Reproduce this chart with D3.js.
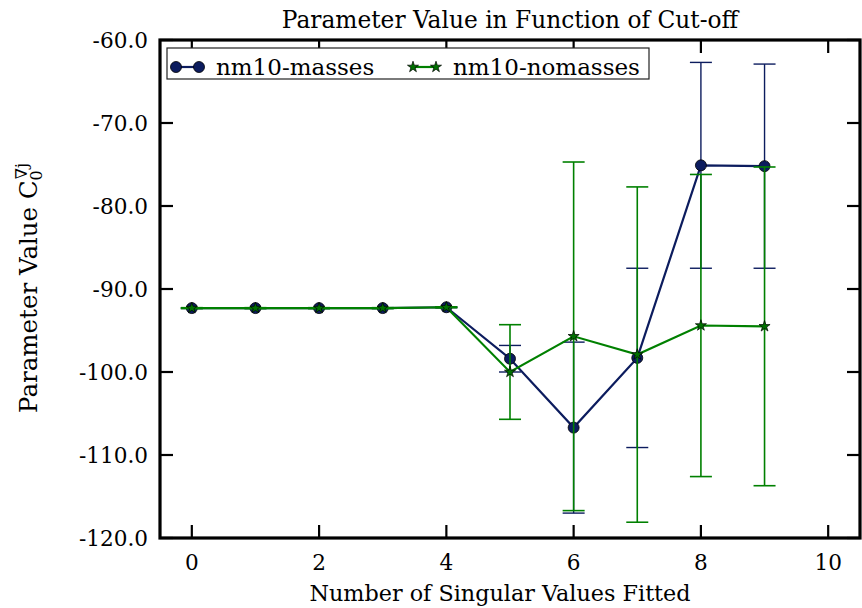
<!DOCTYPE html>
<html lang="en">
<head>
<meta charset="utf-8">
<script src="https://d3js.org/d3.v7.min.js"></script>
<style>
  body { margin: 0; background: #fff; }
  text { font-family: "DejaVu Serif", serif; fill: #000; }
</style>
</head>
<body>
<script>
// data
var cutoffs = [0, 1, 2, 3, 4, 5, 6, 7, 8, 9];
var massesVal = [-92.3, -92.3, -92.3, -92.3, -92.2, -98.4, -106.7, -98.3, -75.1, -75.2];
var massesErr = [0.05, 0.05, 0.05, 0.05, 0.05, 1.6, 10.3, 10.8, 12.4, 12.3];
var nomassesVal = [-92.3, -92.3, -92.3, -92.3, -92.2, -100.0, -95.7, -97.9, -94.4, -94.5];
var nomassesErr = [0.05, 0.05, 0.05, 0.05, 0.05, 5.7, 21.0, 20.2, 18.2, 19.2];
var xTicks = [0, 2, 4, 6, 8, 10];
var yTicks = [-60, -70, -80, -90, -100, -110, -120];

var width = 862, height = 608;
var margin = {left: 160, right: 2, top: 40, bottom: 70};

var svg = d3.select('body').append('svg').attr('width', width).attr('height', height);

var x = d3.scaleLinear().domain([-0.5, 10.5]).range([margin.left, width - margin.right]);
var y = d3.scaleLinear().domain([-120, -60]).range([height - margin.bottom, margin.top]);

var navy = '#0c1c5e', green = '#008000';

// error bars + lines + markers, masses first then nomasses on top
function series(vals, errs, color, lw, ew, kind) {
  var g = svg.append('g');
  var pts = cutoffs.map(function(c, i) { return {x: c, y: vals[i], e: errs[i]}; });
  g.append('path')
    .datum(pts)
    .attr('fill', 'none').attr('stroke', color).attr('stroke-width', lw)
    .attr('d', d3.line().x(function(d) { return x(d.x); }).y(function(d) { return y(d.y); }));
  var eb = g.selectAll('.eb').data(pts).join('g');
  eb.append('line')
    .attr('x1', function(d) { return x(d.x); }).attr('x2', function(d) { return x(d.x); })
    .attr('y1', function(d) { return y(d.y - d.e); }).attr('y2', function(d) { return y(d.y + d.e); })
    .attr('stroke', color).attr('stroke-width', ew);
  [-1, 1].forEach(function(s) {
    eb.append('line')
      .attr('x1', function(d) { return x(d.x) - 11; }).attr('x2', function(d) { return x(d.x) + 11; })
      .attr('y1', function(d) { return y(d.y + s * d.e); }).attr('y2', function(d) { return y(d.y + s * d.e); })
      .attr('stroke', color).attr('stroke-width', ew);
  });
  drawMarkers(g, pts.map(function(d) { return [x(d.x), y(d.y)]; }), kind);
}

function drawMarkers(g, xy, kind) {
  if (kind === 'circle') {
    g.selectAll('.mk').data(xy).join('circle')
      .attr('cx', function(d) { return d[0]; }).attr('cy', function(d) { return d[1]; })
      .attr('r', 5.5).attr('fill', navy).attr('stroke', '#000').attr('stroke-width', 0.8);
  } else {
    g.selectAll('.mk').data(xy).join('path')
      .attr('transform', function(d) { return 'translate(' + d[0] + ',' + d[1] + ')'; })
      .attr('d', d3.symbol(d3.symbolStar, 38))
      .attr('fill', '#007000').attr('stroke', '#000').attr('stroke-width', 0.7);
  }
}

series(massesVal, massesErr, navy, 2.2, 1.4, 'circle');
series(nomassesVal, nomassesErr, green, 2.2, 1.6, 'star');

// frame and ticks (inward on all four sides)
var x0 = x.range()[0], x1 = x.range()[1], y0 = y.range()[0], y1 = y.range()[1];
var tk = 13;
var ax = svg.append('g').attr('stroke', '#000').attr('stroke-width', 2.2);
xTicks.forEach(function(t) {
  ax.append('line').attr('x1', x(t)).attr('x2', x(t)).attr('y1', y0).attr('y2', y0 - tk);
  ax.append('line').attr('x1', x(t)).attr('x2', x(t)).attr('y1', y1).attr('y2', y1 + tk);
});
yTicks.forEach(function(t) {
  ax.append('line').attr('x1', x0).attr('x2', x0 + tk).attr('y1', y(t)).attr('y2', y(t));
  ax.append('line').attr('x1', x1).attr('x2', x1 - tk).attr('y1', y(t)).attr('y2', y(t));
});
svg.append('rect').attr('x', x0).attr('y', y1).attr('width', x1 - x0).attr('height', y0 - y1)
  .attr('fill', 'none').attr('stroke', '#000').attr('stroke-width', 3.2);

// tick labels
svg.selectAll('.xl').data(xTicks).join('text')
  .attr('x', function(d) { return x(d); }).attr('y', 570)
  .attr('text-anchor', 'middle').attr('font-size', 21.6).text(function(d) { return d; });
svg.selectAll('.yl').data(yTicks).join('text')
  .attr('x', 148).attr('y', function(d) { return y(d) + 7.5; })
  .attr('text-anchor', 'end').attr('font-size', 21.6).text(function(d) { return d.toFixed(1); });

// titles
svg.append('text').attr('x', (x0 + x1) / 2).attr('y', 28).attr('text-anchor', 'middle')
  .attr('font-size', 23.3).text('Parameter Value in Function of Cut-off');
svg.append('text').attr('x', 500).attr('y', 601).attr('text-anchor', 'middle')
  .attr('font-size', 22.3).text('Number of Singular Values Fitted');
var yl = svg.append('text').attr('transform', 'translate(37,' + 288 + ') rotate(-90)')
  .attr('text-anchor', 'middle').attr('font-size', 24.5);
yl.append('tspan').text('Parameter Value C');
yl.append('tspan').attr('font-size', 16).attr('dy', 5).text('0');
yl.append('tspan').attr('font-size', 16).attr('dx', -9).attr('dy', -15).text('\u2207j');

// legend
var lg = svg.append('g');
lg.append('rect').attr('x', 167).attr('y', 48).attr('width', 482).attr('height', 31)
  .attr('fill', '#fff').attr('stroke', '#222').attr('stroke-width', 1.2);
var legendItems = [
  {label: 'nm10-masses', color: navy, kind: 'circle', x: 176},
  {label: 'nm10-nomasses', color: green, kind: 'star', x: 413}
];
legendItems.forEach(function(it) {
  var g = lg.append('g');
  g.append('line').attr('x1', it.x).attr('x2', it.x + 23).attr('y1', 67).attr('y2', 67)
    .attr('stroke', it.color).attr('stroke-width', 2.2);
  drawMarkers(g, [[it.x, 67], [it.x + 23, 67]], it.kind);
  g.append('text').attr('x', it.x + 40).attr('y', 74.5).attr('font-size', 23).text(it.label);
});
</script>
</body>
</html>
